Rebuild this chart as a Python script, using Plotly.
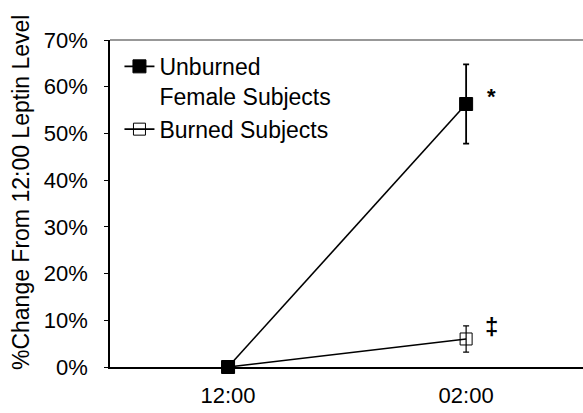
import plotly.graph_objects as go

times = ["12:00", "02:00"]
unburned = [0, 56.3]
unburned_err = [0, 8.5]
burned = [0, 6.0]
burned_err = [0, 2.8]
y_ticks = [0, 10, 20, 30, 40, 50, 60, 70]

xpos = list(range(len(times)))
font = "Liberation Sans, Arial, sans-serif"

fig = go.Figure()
fig.add_trace(go.Scatter(
    x=xpos, y=unburned, mode="lines+markers",
    name="Unburned<br>Female Subjects",
    line=dict(color="black", width=1.6),
    marker=dict(symbol="square", size=13, color="black", line=dict(color="black", width=1)),
    error_y=dict(type="data", array=unburned_err, visible=True, color="black", thickness=1.8, width=3),
    cliponaxis=False,
))
fig.add_trace(go.Scatter(
    x=xpos, y=burned, mode="lines+markers",
    name="Burned Subjects",
    line=dict(color="black", width=1.6),
    marker=dict(symbol="square-open", size=12, color="black", line=dict(color="black", width=1)),
    error_y=dict(type="data", array=burned_err, visible=True, color="black", thickness=1.2, width=3),
    cliponaxis=False,
))

fig.add_annotation(x=1.105, y=58.0, text="<b>*</b>", showarrow=False,
                   font=dict(family=font, size=22, color="black"))
fig.add_annotation(x=1.105, y=8.6, text="<b>‡</b>", showarrow=False,
                   font=dict(family=font, size=24, color="black"))

# y-axis title placed as rotated text
fig.add_annotation(xref="paper", yref="paper", x=0, y=0.532, xshift=-89,
                   text="%Change From 12:00 Leptin Level", textangle=-90,
                   showarrow=False, xanchor="center", yanchor="middle",
                   font=dict(family=font, size=23, color="black"))

# thin top border of the frame
fig.add_shape(type="line", xref="paper", yref="paper", x0=0, x1=1, y0=1, y1=1,
              line=dict(color="#333", width=1.2))

fig.update_layout(
    width=583, height=413,
    margin=dict(l=110, r=0, t=40, b=46),
    paper_bgcolor="white", plot_bgcolor="white",
    font=dict(family=font, size=22, color="black"),
    showlegend=True,
    legend=dict(x=0.02, y=0.985, xanchor="left", yanchor="top",
                bgcolor="rgba(0,0,0,0)", font=dict(size=23, color="black"),
                valign="top", tracegroupgap=0, itemwidth=30),
)
fig.update_xaxes(
    range=[-0.496, 1.491], tickvals=xpos, ticktext=times,
    showgrid=False, zeroline=False, showline=True, linecolor="black", linewidth=2,
    ticks="", tickfont=dict(size=22), ticklabelstandoff=8,
)
fig.update_yaxes(
    range=[0, 70], tickvals=y_ticks, ticktext=[f"{v}%" for v in y_ticks],
    showgrid=False, zeroline=False, showline=True, linecolor="black", linewidth=1.5,
    ticks="outside", ticklen=4, tickcolor="black", tickfont=dict(size=22),
    ticklabelstandoff=12,
)

fig.write_html("out.html")
